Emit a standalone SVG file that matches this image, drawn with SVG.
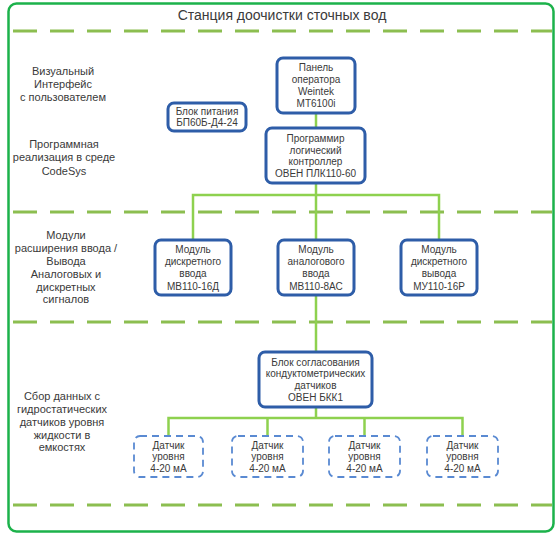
<svg xmlns="http://www.w3.org/2000/svg" width="560" height="535" viewBox="0 0 560 535">
<style>
.t{font-family:"Liberation Sans",Arial,sans-serif;fill:#3a3a3a;text-anchor:middle}
.n{font-size:10px}
.l{font-size:11px}
.box{fill:#fff;stroke:#2E5DA8;stroke-width:3}
.sen{fill:#fff;stroke:#5A8AD2;stroke-width:1.8;stroke-dasharray:7 5}
.dash{stroke:#8CBE50;stroke-width:3;stroke-dasharray:24 13;fill:none}
.c{stroke:#8ED14F;stroke-width:2.5;fill:none}
</style>
<rect x="8.5" y="3.5" width="545" height="528" rx="8" fill="#fff" stroke="#1CB24B" stroke-width="2.5"/>
<text class="t" x="282" y="20" font-size="14" fill="#333">Станция доочистки сточных вод</text>
<g id="separators">
<line class="dash" x1="13" y1="31" x2="552" y2="31"/>
<line class="dash" x1="13" y1="212" x2="552" y2="212"/>
<line class="dash" x1="13" y1="322" x2="552" y2="322"/>
<line class="dash" x1="13" y1="505" x2="552" y2="505"/>
</g>
<g id="labels" class="t l">
<text x="63" y="75">Визуальный</text>
<text x="63" y="88">Интерфейс</text>
<text x="63" y="101">с пользователем</text>
<text x="64" y="148">Программная</text>
<text x="64" y="161">реализация в среде</text>
<text x="64" y="175">CodeSys</text>
<text x="66" y="239">Модули</text>
<text x="66" y="252">расширения ввода /</text>
<text x="66" y="265">Вывода</text>
<text x="66" y="278">Аналоговых и</text>
<text x="66" y="291">дискретных</text>
<text x="66" y="303">сигналов</text>
<text x="62" y="400">Сбор данных с</text>
<text x="62" y="413">гидростатических</text>
<text x="62" y="426">датчиков уровня</text>
<text x="62" y="439">жидкости в</text>
<text x="62" y="451">емкостях</text>
</g>
<g id="connectors">
<line class="c" x1="316" y1="113" x2="316" y2="128"/>
<polyline class="c" points="316,183 316,240"/>
<polyline class="c" points="193,240 193,195 439,195 439,240"/>
<line class="c" x1="316" y1="295" x2="316" y2="352"/>
<line class="c" x1="316" y1="407" x2="316" y2="418"/>
<polyline class="c" points="168.5,436 168.5,418 462.5,418 462.5,436"/>
<line class="c" x1="267.5" y1="418" x2="267.5" y2="436"/>
<line class="c" x1="364.5" y1="418" x2="364.5" y2="436"/>
</g>
<g id="panel">
<rect class="box" x="277" y="58" width="78" height="55" rx="6"/>
<text class="t n" x="316" y="71">Панель</text>
<text class="t n" x="316" y="83">оператора</text>
<text class="t n" x="316" y="95">Weintek</text>
<text class="t n" x="316" y="107">MT6100i</text>
</g>
<g id="power">
<rect class="box" x="168" y="103" width="78" height="28" rx="6"/>
<text class="t n" x="207" y="115">Блок питания</text>
<text class="t n" x="207" y="126">БП60Б-Д4-24</text>
</g>
<g id="plc">
<rect class="box" x="266" y="128" width="99" height="55" rx="6"/>
<text class="t n" x="315.5" y="142">Программир</text>
<text class="t n" x="315.5" y="153.5">логический</text>
<text class="t n" x="315.5" y="165">контроллер</text>
<text class="t n" x="315.5" y="176.5">ОВЕН ПЛК110-60</text>
</g>
<g id="mod1">
<rect class="box" x="155" y="240" width="76" height="55" rx="6"/>
<text class="t n" x="193" y="252.5">Модуль</text>
<text class="t n" x="193" y="265">дискретного</text>
<text class="t n" x="193" y="277">ввода</text>
<text class="t n" x="193" y="289.5">МВ110-16Д</text>
</g>
<g id="mod2">
<rect class="box" x="278" y="240" width="76" height="55" rx="6"/>
<text class="t n" x="316" y="252.5">Модуль</text>
<text class="t n" x="316" y="265">аналогового</text>
<text class="t n" x="316" y="277">ввода</text>
<text class="t n" x="316" y="289.5">МВ110-8АС</text>
</g>
<g id="mod3">
<rect class="box" x="401" y="240" width="76" height="55" rx="6"/>
<text class="t n" x="439" y="252.5">Модуль</text>
<text class="t n" x="439" y="265">дискретного</text>
<text class="t n" x="439" y="277">вывода</text>
<text class="t n" x="439" y="289.5">МУ110-16Р</text>
</g>
<g id="bkk">
<rect class="box" x="259" y="352" width="113" height="55" rx="6"/>
<text class="t n" x="315.5" y="365.5">Блок согласования</text>
<text class="t n" x="315.5" y="377">кондуктометрических</text>
<text class="t n" x="315.5" y="388.5">датчиков</text>
<text class="t n" x="315.5" y="400.5">ОВЕН БКК1</text>
</g>
<g id="sensor1">
<rect class="sen" x="134" y="436" width="69" height="41" rx="6"/>
<text class="t n" x="168.5" y="448.5">Датчик</text>
<text class="t n" x="168.5" y="460">уровня</text>
<text class="t n" x="168.5" y="471.5">4-20 мА</text>
</g>
<g id="sensor2">
<rect class="sen" x="232" y="436" width="71" height="41" rx="6"/>
<text class="t n" x="267.5" y="448.5">Датчик</text>
<text class="t n" x="267.5" y="460">уровня</text>
<text class="t n" x="267.5" y="471.5">4-20 мА</text>
</g>
<g id="sensor3">
<rect class="sen" x="329" y="436" width="71" height="41" rx="6"/>
<text class="t n" x="364.5" y="448.5">Датчик</text>
<text class="t n" x="364.5" y="460">уровня</text>
<text class="t n" x="364.5" y="471.5">4-20 мА</text>
</g>
<g id="sensor4">
<rect class="sen" x="427" y="436" width="71" height="41" rx="6"/>
<text class="t n" x="462.5" y="448.5">Датчик</text>
<text class="t n" x="462.5" y="460">уровня</text>
<text class="t n" x="462.5" y="471.5">4-20 мА</text>
</g>
</svg>
